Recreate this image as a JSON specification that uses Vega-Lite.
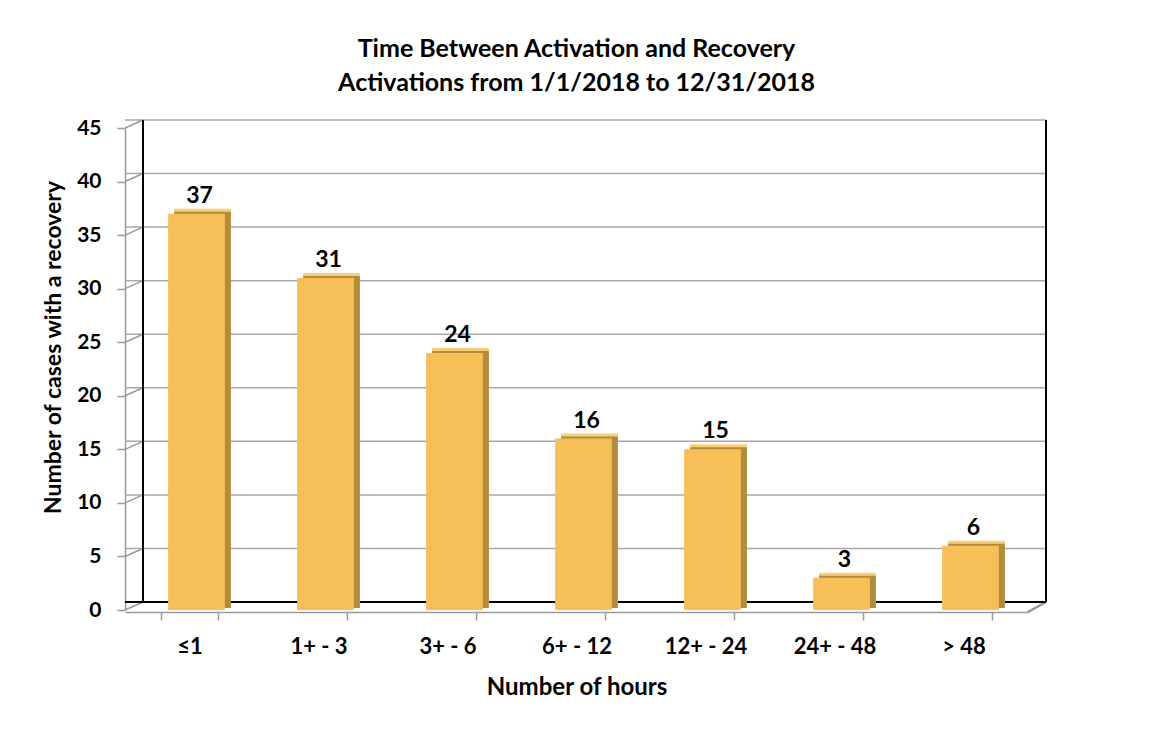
{
  "$schema": "https://vega.github.io/schema/vega-lite/v6.json",
  "width": 903,
  "height": 482,
  "autosize": {"type": "none"},
  "padding": {"left": 125, "top": 128, "right": 126, "bottom": 126},
  "background": "white",
  "title": {
    "text": ["Time Between Activation and Recovery", "Activations from 1/1/2018 to 12/31/2018"],
    "font": "Lato",
    "fontSize": 25,
    "fontWeight": "bold",
    "color": "#000000",
    "anchor": "middle",
    "lineHeight": 34,
    "offset": 21
  },
  "config": {
    "view": {"stroke": null},
    "font": "Lato",
    "axis": {"grid": false},
    "axisY": {
      "title": "Number of cases with a recovery",
      "titleFont": "Lato",
      "titleFontSize": 23,
      "titleFontWeight": "bold",
      "titleColor": "#000000",
      "titleX": -72,
      "titleY": 219,
      "titleAlign": "center",
      "titleBaseline": "middle",
      "values": [0, 5, 10, 15, 20, 25, 30, 35, 40, 45],
      "labelFont": "Lato",
      "labelFontSize": 21,
      "labelFontWeight": "bold",
      "labelColor": "#000000",
      "labelPadding": 16,
      "tickSize": 8,
      "tickColor": "#9a9a9a",
      "tickWidth": 1.5,
      "domainColor": "#9a9a9a",
      "domainWidth": 1.5
    }
  },
  "datasets": {
    "bars": [
      {"hours": "≤1", "cases": 37},
      {"hours": "1+ - 3", "cases": 31},
      {"hours": "3+ - 6", "cases": 24},
      {"hours": "6+ - 12", "cases": 16},
      {"hours": "12+ - 24", "cases": 15},
      {"hours": "24+ - 48", "cases": 3},
      {"hours": "> 48", "cases": 6}
    ],
    "grid": [
      {"v": 5}, {"v": 10}, {"v": 15}, {"v": 20}, {"v": 25},
      {"v": 30}, {"v": 35}, {"v": 40}, {"v": 45}
    ],
    "wall": [
      {"v": 0}, {"v": 5}, {"v": 10}, {"v": 15}, {"v": 20}, {"v": 25},
      {"v": 30}, {"v": 35}, {"v": 40}, {"v": 45}
    ]
  },
  "layer": [
    {
      "data": {"name": "grid"},
      "mark": {"type": "rule", "color": "#a8a8a8", "strokeWidth": 1.5, "xOffset": 18, "yOffset": -8},
      "encoding": {
        "y": {"field": "v", "type": "quantitative", "title": "Number of cases with a recovery"}
      }
    },
    {
      "data": {"name": "wall"},
      "mark": {"type": "rule", "color": "#9a9a9a", "strokeWidth": 1.5, "x2Offset": 18, "y2Offset": -8},
      "encoding": {
        "x": {"value": 0},
        "x2": {"value": 0},
        "y": {"field": "v", "type": "quantitative", "title": "Number of cases with a recovery"},
        "y2": {"field": "v"}
      }
    },
    {
      "data": {"name": "grid"},
      "mark": {"type": "rule", "color": "#9a9a9a", "strokeWidth": 1.5, "yOffset": 2, "x2Offset": 18, "y2Offset": -8},
      "encoding": {
        "x": {"value": {"expr": "width"}},
        "x2": {"value": {"expr": "width"}},
        "y": {"datum": 0, "type": "quantitative"},
        "y2": {"datum": 0}
      }
    },
    {
      "data": {"name": "grid"},
      "mark": {"type": "rule", "color": "#000000", "strokeWidth": 2, "xOffset": 18, "yOffset": -8, "y2Offset": -8},
      "encoding": {
        "x": {"value": 0},
        "y": {"datum": 0, "type": "quantitative"},
        "y2": {"datum": 45}
      }
    },
    {
      "data": {"name": "grid"},
      "mark": {"type": "rule", "color": "#000000", "strokeWidth": 2, "xOffset": 18, "yOffset": -8, "y2Offset": -8},
      "encoding": {
        "x": {"value": {"expr": "width"}},
        "y": {"datum": 0, "type": "quantitative"},
        "y2": {"datum": 45}
      }
    },
    {
      "data": {"name": "grid"},
      "mark": {"type": "rule", "color": "#000000", "strokeWidth": 2, "xOffset": 18, "yOffset": -8},
      "encoding": {
        "y": {"datum": 0, "type": "quantitative"}
      }
    },
    {
      "data": {"name": "bars"},
      "encoding": {
        "x": {
          "field": "hours",
          "type": "nominal",
          "sort": null,
          "scale": {"paddingInner": 0.56, "paddingOuter": 0.28},
          "axis": {
            "title": "Number of hours",
            "titleFont": "Lato",
            "titleFontSize": 24,
            "titleFontWeight": "bold",
            "titleColor": "#000000",
            "titleY": 75,
            "titleBaseline": "middle",
            "labelAngle": 0,
            "labelFont": "Lato",
            "labelFontSize": 22,
            "labelFontWeight": "bold",
            "labelColor": "#000000",
            "labelPadding": 26,
            "labelBaseline": "middle",
            "tickBand": "extent",
            "tickSize": 8,
            "tickColor": "#9a9a9a",
            "tickWidth": 1.5,
            "domainColor": "#9a9a9a",
            "domainWidth": 1.5,
            "offset": 2
          }
        },
        "y": {
          "field": "cases",
          "type": "quantitative",
          "scale": {"domain": [0, 45]},
          "title": "Number of cases with a recovery"
        }
      },
      "layer": [
        {
          "mark": {"type": "bar", "color": "#f7cf7a", "xOffset": 13, "yOffset": -5, "y2Offset": -5}
        },
        {
          "mark": {"type": "bar", "color": "#b48a3c", "xOffset": 13, "yOffset": -2, "y2Offset": -3}
        },
        {
          "mark": {"type": "bar", "color": "#f6bf57", "xOffset": 7}
        },
        {
          "mark": {"type": "text", "font": "Lato", "fontSize": 23, "fontWeight": "bold", "color": "#000000", "baseline": "bottom", "xOffset": 10, "yOffset": -6},
          "encoding": {
            "text": {"field": "cases", "type": "quantitative"}
          }
        }
      ]
    }
  ]
}
